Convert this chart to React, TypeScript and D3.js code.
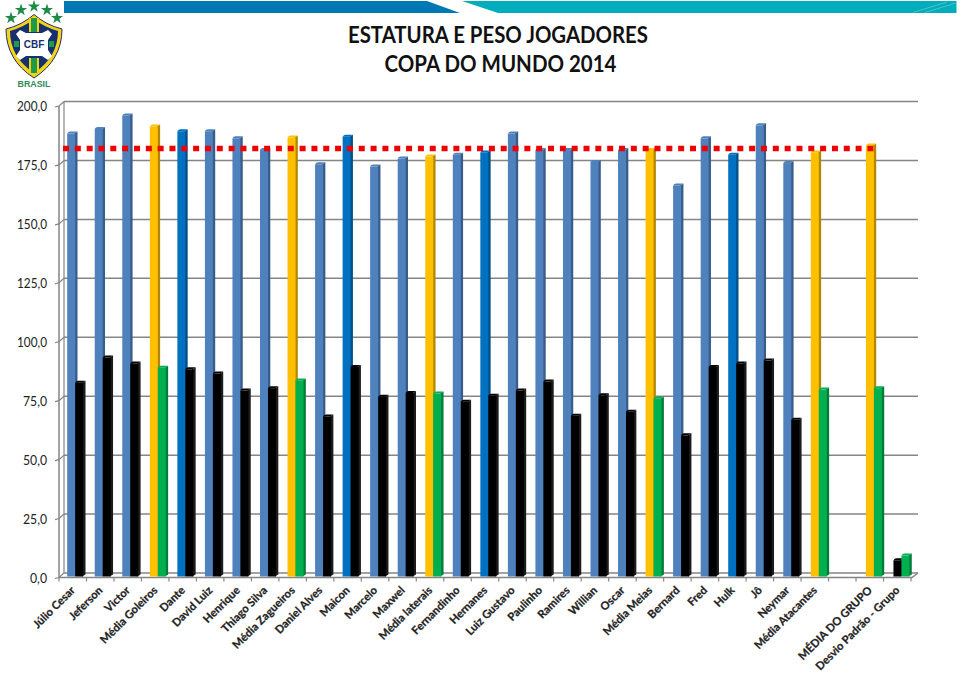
import React from "react";
import * as d3 from "d3";

const categories = [
  "Júlio Cesar", "Jeferson", "Victor", "Média Goleiros", "Dante", "David Luiz", "Henrique", "Thiago Silva",
  "Média Zagueiros", "Daniel Alves", "Maicon", "Marcelo", "Maxwel", "Média laterais", "Fernandinho", "Hernanes",
  "Luiz Gustavo", "Paulinho", "Ramires", "Willian", "Oscar", "Média Meias", "Bernard", "Fred", "Hulk", "Jô",
  "Neymar", "Média Atacantes", "", "MÉDIA DO GRUPO", "Desvio Padrão - Grupo",
];

// estatura (cm)
const heights = [
  188, 190, 195.7, 191, 189, 189, 186, 181, 186.3, 175, 186.7, 174, 177.4, 178.3, 179, 180, 188, 181, 181, 176,
  181, 181, 166, 186, 179, 191.5, 175.5, 180, null, 183, null,
];
// peso (kg)
const weights = [
  82.3, 93, 90.5, 88.7, 88, 86.2, 79, 80, 83.3, 68, 89, 76.4, 78, 77.7, 74.3, 76.8, 79, 82.8, 68.3, 77, 70, 75.5,
  60, 89, 90.5, 91.7, 66.6, 79.4, null, 80, 9,
];
const deviationHeight = 7;

const darkBlue = ["Dante", "Maicon", "Hernanes", "Hulk"];
const yTicks = [0, 25, 50, 75, 100, 125, 150, 175, 200];
const groupMean = 182;

const palette: Record<string, [string, string]> = {
  light: ["#4f81bd", "#385d8a"],
  dark: ["#0070c0", "#004f88"],
  avg: ["#ffc000", "#b38800"],
  green: ["#00b050", "#007c38"],
  black: ["#000000", "#1c1c1c"],
};

// ticks and bars don't quite share a step in the original 3D projection
const x = d3.scaleBand<string>().domain(categories).range([59, 911]);
const barX = d3.scaleBand<string>().domain(categories).range([59.2, 913]);
const inner = d3.scaleBand<string>().domain(["h", "w"]).range([8, 24]);
const y = d3.scaleLinear().domain([0, 200]).range([577.5, 106]);
const depthX = 5;
const depthY = 4.5;

function isAverage(name: string) {
  return name.startsWith("Média") || name.startsWith("MÉDIA");
}

function Bar({ name, series, value, colors }: { name: string; series: string; value: number; colors: [string, string] }) {
  const left = (barX(name) as number) + (inner(series) as number);
  const w = inner.bandwidth();
  const top = y(value) - 0.7;
  const base = y(0) - 1;
  return (
    <g>
      <path
        d={`M${left + w - 1},${base}L${left + w - 1},${top}L${left + w + 2.3},${top - 2}L${left + w + 2.3},${base - 2}Z`}
        fill={colors[1]}
      />
      <path
        d={`M${left},${top}Q${left + 1},${top - 2} ${left + 3},${top - 2}L${left + w + 2.3},${top - 2}L${left + w - 1},${top}Z`}
        fill={colors[0]}
      />
      <rect x={left} y={top} width={w} height={base - top} fill={colors[0]} />
    </g>
  );
}

function Logo() {
  const star = d3.symbol().type(d3.symbolStar).size(46)() as string;
  const stars = [[11, 18], [21, 10], [34, 6.5], [47, 10], [57, 18]];
  return (
    <g>
      {stars.map(([a, b]) => (
        <path key={a} d={star} transform={`translate(${a},${b})`} fill="#1d8a45" />
      ))}
      <path d="M6,29 Q22,25 34,14.5 Q46,25 62,29 Q62,60 34,78 Q6,60 6,29Z" fill="#f3d21b" stroke="#22305f" strokeWidth={1} />
      <path d="M10,31 Q24,27 34,19 Q44,27 58,31 Q58,57 34,73 Q10,57 10,31Z" fill="#17306f" />
      <path d="M29,18 L39,18 L39,32 L29,32Z" fill="#f3d21b" />
      <path d="M31,18 L37,18 L37,32 L31,32Z" fill="#1d9a4a" />
      <path d="M29,58 L39,58 L39,73 L29,73Z" fill="#f3d21b" />
      <path d="M31,58 L37,58 L37,73 L31,73Z" fill="#1d9a4a" />
      <path
        d="M20,30 L26,33 L42,33 L48,30 L52,34 L48,40 L48,50 L52,56 L48,60 L42,56 L26,56 L20,60 L16,56 L20,50 L20,40 L16,34Z"
        fill="#ffffff"
      />
      <path d="M14,41 L19,41 L19,47 L14,47Z M49,41 L54,41 L54,47 L49,47Z" fill="#1d9a4a" />
      <text x={34} y={48} textAnchor="middle" fontFamily="Liberation Sans" fontWeight={700} fontSize={10} fill="#17306f">
        CBF
      </text>
      <text x={34} y={87} textAnchor="middle" fontFamily="Liberation Sans" fontWeight={700} fontSize={9.5} textLength={33} lengthAdjust="spacingAndGlyphs" fill="#2d8a5a">
        BRASIL
      </text>
    </g>
  );
}

export default function App() {
  const font = "Lato, 'Noto Sans', sans-serif";
  const gray = "#858585";
  return (
    <svg
      width={960}
      height={673}
      style={{ position: "absolute", left: 0, top: 0, background: "#fff" }}
      fontFamily={font}
    >
      {/* header band: blue piece, slanted gap, teal piece */}
      <path d="M64,1L427,1L460,13L64,13Z" fill="#0078b4" />
      <path d="M462,1L956.5,1L956.5,13L498,13Z" fill="#00adbd" />
      <path d="M913,12.5L947,2M925,12.5L956,3" stroke="#5cc9c4" strokeWidth={0.8} fill="none" />
      <Logo />

      <text x={498} y={43} textAnchor="middle" fontSize={22} fontWeight={700} fill="#111" textLength={300} lengthAdjust="spacingAndGlyphs">
        ESTATURA E PESO JOGADORES
      </text>
      <text x={500.5} y={72} textAnchor="middle" fontSize={22} fontWeight={700} fill="#111" textLength={232} lengthAdjust="spacingAndGlyphs">
        COPA DO MUNDO 2014
      </text>

      {/* back wall gridlines and front axis */}
      {yTicks.map((t) => (
        <g key={t}>
          <line x1={64} x2={918} y1={y(t) - depthY} y2={y(t) - depthY} stroke={gray} strokeWidth={1.5} />
          <path d={`M${55},${y(t) + 1}L${59},${y(t)}L${59 + depthX},${y(t) - depthY}`} fill="none" stroke={gray} strokeWidth={1.2} />
          <text x={47} y={y(t) + 5} textAnchor="end" fontSize={13.5} fill="#222" textLength={t === 0 ? 17 : t < 100 ? 24 : 30} lengthAdjust="spacingAndGlyphs">
            {d3.format(".1f")(t).replace(".", ",")}
          </text>
        </g>
      ))}
      <line x1={64} x2={64} y1={y(200) - depthY} y2={y(0) - depthY} stroke={gray} strokeWidth={1.2} />
      <line x1={59} x2={59} y1={y(200)} y2={y(0)} stroke={gray} strokeWidth={1.5} />
      <path d={`M59,${y(0)}L912,${y(0)}L918,${y(0) - depthY}`} fill="none" stroke={gray} strokeWidth={1.5} />

      {categories.map((c) => (
        <line key={c} x1={x(c)} x2={x(c)} y1={y(0)} y2={y(0) + 4} stroke={gray} strokeWidth={1.2} />
      ))}
      <line x1={911} x2={911} y1={y(0)} y2={y(0) + 4} stroke={gray} strokeWidth={1.2} />

      {categories.map((c, i) => {
        const h = heights[i];
        const w = weights[i];
        const heightColors = isAverage(c) ? palette.avg : darkBlue.includes(c) ? palette.dark : palette.light;
        const weightColors = isAverage(c) || c.startsWith("Desvio") ? palette.green : palette.black;
        return (
          <g key={c}>
            {h != null && <Bar name={c} series="h" value={h} colors={heightColors} />}
            {c.startsWith("Desvio") && <Bar name={c} series="h" value={deviationHeight} colors={palette.black} />}
            {w != null && <Bar name={c} series="w" value={w} colors={weightColors} />}
          </g>
        );
      })}

      <line
        x1={63}
        x2={878}
        y1={y(groupMean)}
        y2={y(groupMean)}
        stroke="#ee0000"
        strokeWidth={5.5}
        strokeDasharray="6 5.83"
      />

      {categories.filter((c) => c !== "").map((c) => {
        const cx = (x(c) as number) + x.bandwidth() / 2;
        return (
          <text
            key={c}
            transform={`translate(${cx + 3},${591}) rotate(-45)`}
            textAnchor="end"
            fontSize={11.2}
            fontWeight={700}
            fill="#222"
            stroke="#222"
            strokeWidth={0.25}
          >
            {c}
          </text>
        );
      })}
    </svg>
  );
}
